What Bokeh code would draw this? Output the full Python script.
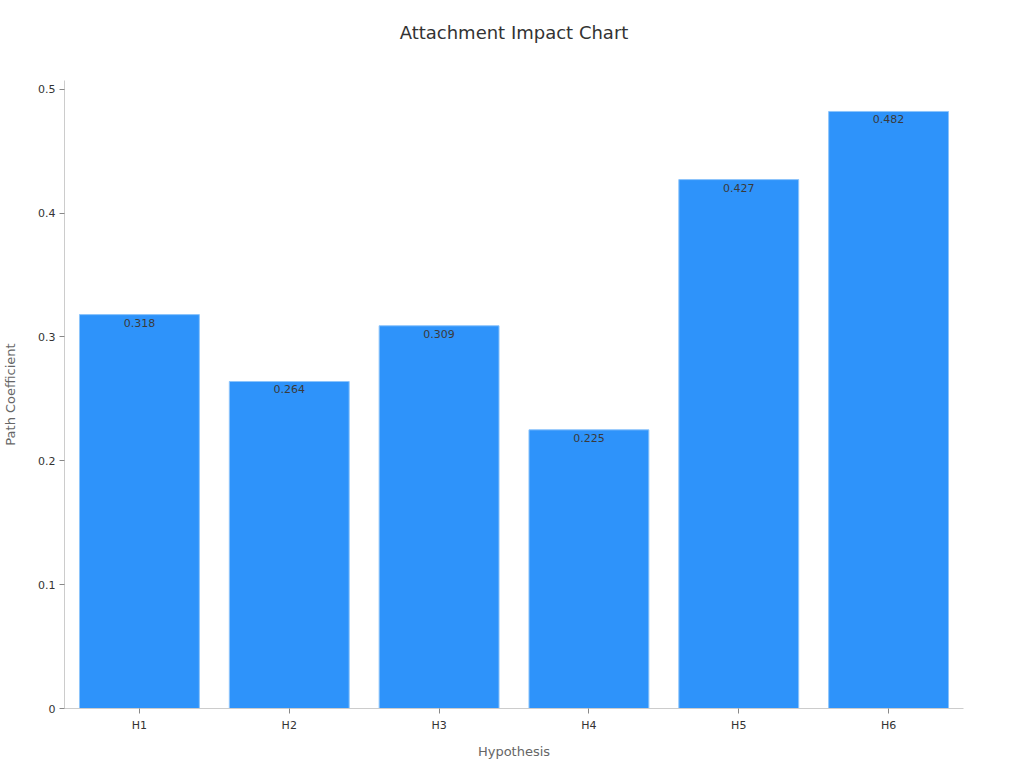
from bokeh.plotting import figure
from bokeh.models import ColumnDataSource, Range1d, FixedTicker, CustomJSTickFormatter
from bokeh.core.properties import value
from bokeh.embed import file_html
from bokeh.resources import INLINE

categories = ["H1", "H2", "H3", "H4", "H5", "H6"]
values = [0.318, 0.264, 0.309, 0.225, 0.427, 0.482]
labels = ["0.318", "0.264", "0.309", "0.225", "0.427", "0.482"]
y_ticks = [0, 0.1, 0.2, 0.3, 0.4, 0.5]
title_text = "Attachment Impact Chart"

FONT = "DejaVu Sans"

src = ColumnDataSource(dict(cat=categories, val=values, lab=labels))

p = figure(x_range=categories, y_range=Range1d(0, 0.507),
           output_backend="svg", toolbar_location=None,
           min_border_left=64, min_border_right=50, min_border_top=80, min_border_bottom=52,
           frame_width=899, frame_height=628)

# trailing empty line gives the title box extra height so the text sits higher
p.title.text = title_text + "\n"
p.title.align = "center"
p.title.vertical_align = "top"
p.title.text_font = FONT
p.title.text_font_size = "18px"
p.title.text_font_style = "normal"
p.title.text_color = "#333333"
p.title.text_line_height = 1.0
p.title.standoff = 30

p.vbar(x="cat", top="val", width=0.8, source=src,
       fill_color="#2E93FA", line_color="#8cc4fb", line_width=1)

p.text(x="cat", y="val", text="lab", source=src, text_align="center",
       text_baseline="top", y_offset=4, text_font=value(FONT),
       text_font_size="11px", text_color="#3a3a3a")

p.xgrid.visible = False
p.ygrid.visible = False
p.outline_line_color = None
p.x_range.range_padding = 0

for ax in (p.xaxis[0], p.yaxis[0]):
    ax.axis_line_color = "#cccccc"
    ax.major_tick_line_color = "#888888"
    ax.major_tick_out = 5
    ax.major_tick_in = 0
    ax.minor_tick_line_color = None
    ax.major_label_text_font = FONT
    ax.major_label_text_font_size = "11px"
    ax.major_label_text_color = "#333333"
    ax.axis_label_text_font = FONT
    ax.axis_label_text_font_size = "13px"
    ax.axis_label_text_font_style = "normal"
    ax.axis_label_text_color = "#666666"

p.yaxis.ticker = FixedTicker(ticks=y_ticks)
p.yaxis.formatter = CustomJSTickFormatter(code="return tick === 0 ? '0' : tick.toFixed(1);")
p.yaxis.major_label_standoff = 4
p.xaxis.axis_label = "Hypothesis"
p.yaxis.axis_label = "Path Coefficient"
p.xaxis.axis_label_standoff = 9
p.yaxis.axis_label_standoff = 17

open("out.html", "w").write(file_html(p, INLINE))
